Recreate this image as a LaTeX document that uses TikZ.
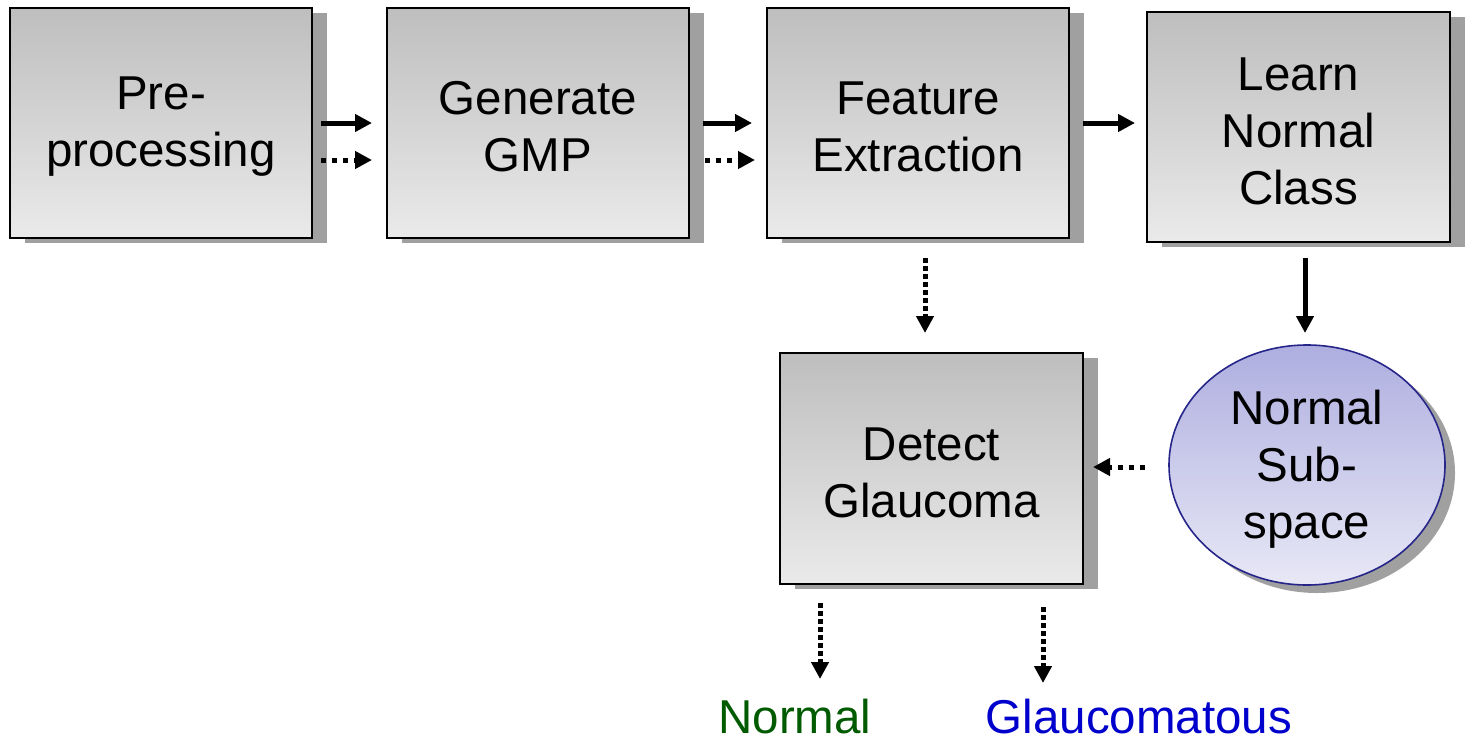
\documentclass[tikz,border=0pt]{standalone}
\usepackage{fontspec}
\setmainfont{Liberation Sans}
\usetikzlibrary{arrows.meta,shadows,shapes.geometric}
\definecolor{shadowgray}{HTML}{A0A0A0}
\definecolor{boxtop}{HTML}{BEBEBE}
\definecolor{boxbot}{HTML}{EAEAEA}
\definecolor{elltop}{HTML}{AEAEE0}
\definecolor{ellbot}{HTML}{E8E8F6}
\definecolor{ellline}{HTML}{26268A}
\definecolor{okgreen}{HTML}{005A00}
\definecolor{badblue}{HTML}{0000CC}
\tikzset{
  bigtext/.style={font=\fontsize{47.5}{57}\selectfont},
  stagebox/.style={draw=black, line width=1.8pt, top color=boxtop, bottom color=boxbot,
    minimum width=302pt, minimum height=230pt, inner sep=0pt,
    drop shadow={shadow xshift=15pt, shadow yshift=-5pt, fill=shadowgray, opacity=1}},
  subspace/.style={ellipse, draw=ellline, line width=1.6pt, top color=elltop, bottom color=ellbot,
    minimum width=276pt, minimum height=240pt, inner sep=0pt,
    drop shadow={shadow xshift=10pt, shadow yshift=-8pt, fill=shadowgray, opacity=1}},
  boxtext/.style={bigtext, align=center, inner sep=0pt, yshift=-4pt},
  flow/.style={line width=5pt, -{Triangle[length=17pt,width=17pt]}},
  flowdot/.style={line width=5pt, dash pattern=on 5pt off 6pt, -{Triangle[length=17pt,width=17pt]}},
  flowdotv/.style={line width=5pt, dash pattern=on 4.5pt off 3.5pt, -{Triangle[length=17pt,width=17pt]}},
  outlabel/.style={bigtext, inner sep=0pt}
}
\begin{document}
\begin{tikzpicture}[x=1pt,y=-1pt]
\useasboundingbox (0,0) rectangle (1466,744);
% processing stages
\node[stagebox] (pre) at (161,123) {};
\node[stagebox] (gmp) at (538,123) {};
\node[stagebox] (feat) at (918,123) {};
\node[stagebox, minimum width=303pt] (learn) at (1298.5,127) {};
\node[stagebox, minimum width=303pt, minimum height=231pt] (detect) at (931.5,468.5) {};
\node[subspace] (sub) at (1307,465) {};
% their captions
\node[boxtext] (pretext) at (pre.center) {Pre-\\processing};
\node[boxtext] (gmptext) at (gmp.center) {Generate\\GMP};
\node[boxtext] (feattext) at (feat.center) {Feature\\Extraction};
\node[boxtext] (learntext) at (learn.center) {Learn\\Normal\\Class};
\node[boxtext] (detecttext) at (detect.center) {Detect\\Glaucoma};
\node[boxtext] (subtext) at (sub.center) {Normal\\Sub-\\space};
% connector end points
\coordinate (a1s) at (321,123); \coordinate (a1e) at (372,123);
\coordinate (b1s) at (321,160); \coordinate (b1e) at (372,160);
\coordinate (a2s) at (703,123); \coordinate (a2e) at (752,123);
\coordinate (b2s) at (705,160); \coordinate (b2e) at (755,160);
\coordinate (a3s) at (1083,123); \coordinate (a3e) at (1135,123);
\coordinate (fds) at (925,258); \coordinate (fde) at (925,333);
\coordinate (lds) at (1305,258); \coordinate (lde) at (1305,333);
\coordinate (sls) at (1145,467); \coordinate (sle) at (1093,467);
\coordinate (n1s) at (820,603); \coordinate (n1e) at (820,679);
\coordinate (g1s) at (1043,607); \coordinate (g1e) at (1043,683);
% connectors
\draw[flow] (a1s) -- (a1e);
\draw[flowdot] (b1s) -- (b1e);
\draw[flow] (a2s) -- (a2e);
\draw[flowdot] (b2s) -- (b2e);
\draw[flow] (a3s) -- (a3e);
\draw[flowdotv] (fds) -- (fde);
\draw[flow] (lds) -- (lde);
\draw[flowdot] (sls) -- (sle);
\draw[flowdotv] (n1s) -- (n1e);
\draw[flowdotv] (g1s) -- (g1e);
% outcomes
\node[outlabel, text=okgreen] (normal) at (795,717) {Normal};
\node[outlabel, text=badblue] (glauc) at (1139,717) {Glaucomatous};
\end{tikzpicture}
\end{document}
